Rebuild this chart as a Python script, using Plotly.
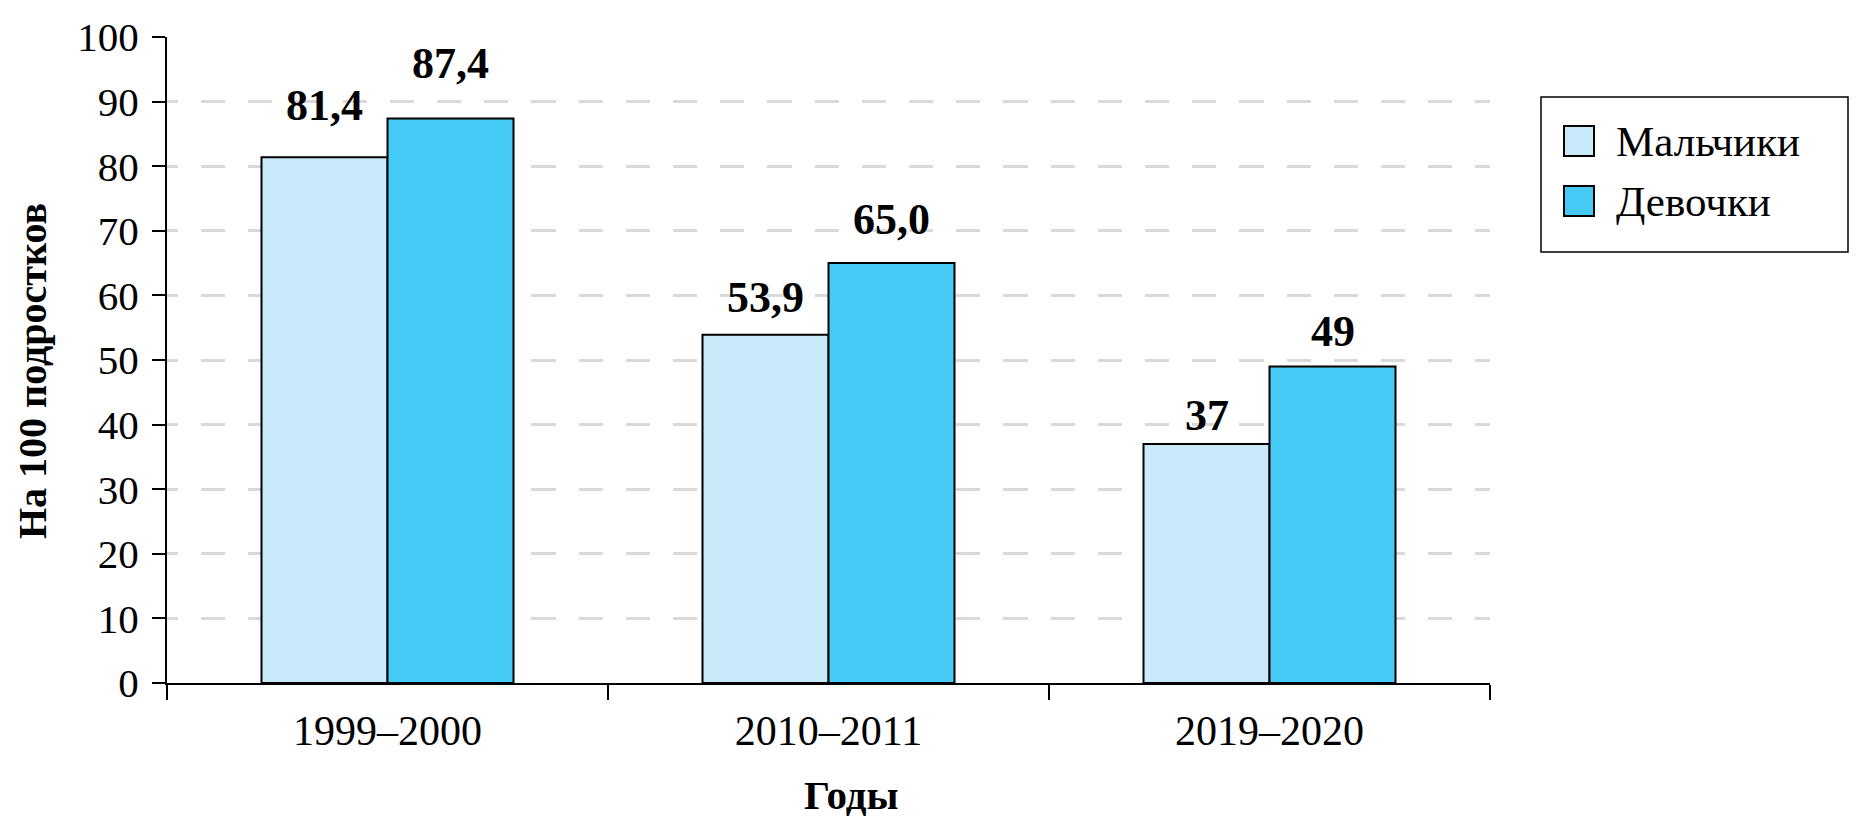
import plotly.graph_objects as go

categories = ["1999–2000", "2010–2011", "2019–2020"]
boys = [81.4, 53.9, 37]
girls = [87.4, 65.0, 49]
boys_labels = ["81,4", "53,9", "37"]
girls_labels = ["87,4", "65,0", "49"]
series_names = ["Мальчики", "Девочки"]
y_ticks = [0, 10, 20, 30, 40, 50, 60, 70, 80, 90, 100]
x_title = "Годы"
y_title = "На 100 подростков"

FONT = "Liberation Serif"
C_BOYS = "#C7E9F8"
C_GIRLS = "#45C9F5"
W, H = 1864, 830
L, R, T, B = 167, 374, 37, 147
plot_w = W - L - R
plot_h = H - T - B


def px_x(p):
    return (p - L) / plot_w


def px_y(p):
    return (H - B - p) / plot_h


fig = go.Figure()
fig.add_trace(go.Bar(
    x=categories, y=boys, name=series_names[0], showlegend=False,
    marker=dict(color=C_BOYS, line=dict(color="black", width=2)),
))
fig.add_trace(go.Bar(
    x=categories, y=girls, name=series_names[1], showlegend=False,
    marker=dict(color=C_GIRLS, line=dict(color="black", width=2)),
))

# value labels above bars (label offset grows slightly with bar height, as in the source)
bar_half = plot_w / len(categories) * (4 / 7) / 4
for vals, labs, sgn in [(boys, boys_labels, -1), (girls, girls_labels, 1)]:
    for c, v, t in zip(categories, vals, labs):
        fig.add_annotation(
            x=c, y=v, text="<b>" + t + "</b>", showarrow=False,
            xref="x", yref="y", xshift=sgn * bar_half, yshift=0.51 * v + 10,
            yanchor="middle", xanchor="center",
            font=dict(family=FONT, size=44, color="black"),
        )

# custom legend: frame, swatches, labels
shapes = [dict(type="rect", xref="paper", yref="paper",
               x0=px_x(1541), x1=px_x(1848), y0=px_y(252), y1=px_y(97),
               line=dict(color="black", width=1.5), fillcolor="white", layer="above")]
for i, (nm, col) in enumerate(zip(series_names, [C_BOYS, C_GIRLS])):
    cy = 141 + 60 * i
    shapes.append(dict(type="rect", xref="paper", yref="paper",
                       x0=px_x(1564), x1=px_x(1594), y0=px_y(cy + 15), y1=px_y(cy - 15),
                       line=dict(color="black", width=2), fillcolor=col, layer="above"))
    fig.add_annotation(x=px_x(1614), y=px_y(cy), xref="paper", yref="paper",
                       text=nm, showarrow=False, xanchor="left", yanchor="middle",
                       font=dict(family=FONT, size=43, color="black"))

# axis titles
fig.add_annotation(x=px_x(851), y=px_y(795), xref="paper", yref="paper",
                   text="<b>" + x_title + "</b>", showarrow=False,
                   xanchor="center", yanchor="middle",
                   font=dict(family=FONT, size=41, color="black"))
fig.add_annotation(x=px_x(32), y=px_y(371), xref="paper", yref="paper",
                   text="<b>" + y_title + "</b>", showarrow=False, textangle=-90,
                   xanchor="center", yanchor="middle",
                   font=dict(family=FONT, size=40, color="black"))

dash = "11px,23px," + ",".join(["24.2px,23px"] * 30)

fig.update_layout(
    width=W, height=H,
    margin=dict(l=L, r=R, t=T, b=B),
    paper_bgcolor="white", plot_bgcolor="white",
    font=dict(family=FONT, size=41, color="black"),
    barmode="group", bargap=3 / 7, bargroupgap=0,
    showlegend=False,
    shapes=shapes,
    xaxis=dict(
        showline=True, linecolor="black", linewidth=2,
        ticks="outside", tickson="boundaries", ticklen=15, tickwidth=2, tickcolor="black",
        showgrid=False, ticklabelstandoff=10,
        tickfont=dict(family=FONT, size=42),
    ),
    yaxis=dict(
        range=[0, 100], tickvals=y_ticks,
        showline=True, linecolor="black", linewidth=2,
        ticks="outside", ticklen=13, tickwidth=2, tickcolor="black",
        showgrid=True, gridcolor="#D9D9D9", gridwidth=2.5, griddash=dash,
        zeroline=False, ticklabelstandoff=5,
        tickfont=dict(family=FONT, size=41),
    ),
)

fig.write_html(
    "out.html",
    config={"displayModeBar": False},
    post_script="document.body.style.margin='0';document.body.style.overflow='hidden';",
)
